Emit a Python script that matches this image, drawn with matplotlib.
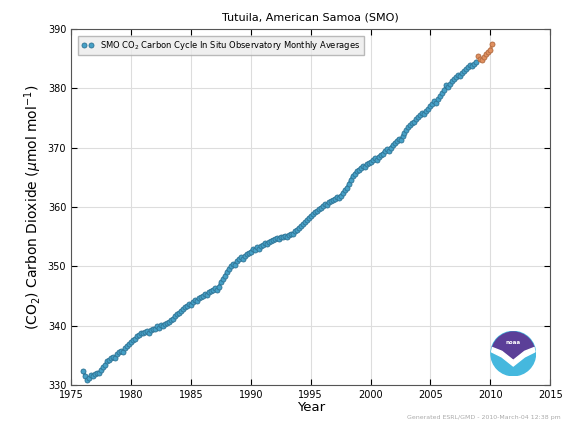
import numpy as np
import matplotlib
matplotlib.use("Agg")
import matplotlib.pyplot as plt
from matplotlib.patches import Circle, Polygon

# bimonthly CO2 values (ppm), starting 1976.0
co2_blue = [
    332.4, 331.6, 330.9, 331.2, 331.7, 331.5,  # 1976
    331.9, 332.1, 332.0, 332.6, 333.0, 333.4,  # 1977
    334.0, 334.2, 334.5, 334.8, 334.6, 335.2,  # 1978
    335.5, 335.8, 335.6, 336.2, 336.6, 336.9,  # 1979
    337.3, 337.6, 337.8, 338.2, 338.5, 338.8,  # 1980
    338.7, 338.9, 339.1, 338.8, 339.2, 339.4,  # 1981
    339.5, 339.9, 339.7, 340.1, 340.0, 340.3,  # 1982
    340.4, 340.6, 340.9, 341.2, 341.6, 341.9,  # 1983
    342.1, 342.5, 342.8, 343.1, 343.4, 343.6,  # 1984
    343.5, 344.0, 344.3, 344.1, 344.6, 344.9,  # 1985
    345.0, 345.4, 345.2, 345.7, 345.9, 346.1,  # 1986
    346.3, 346.1, 346.6, 347.3, 347.8, 348.4,  # 1987
    349.0, 349.6, 350.0, 350.4, 350.3, 350.9,  # 1988
    351.2, 351.5, 351.3, 351.8, 352.1, 352.3,  # 1989
    352.5, 352.9, 352.7, 353.2, 353.0, 353.4,  # 1990
    353.6, 353.9, 353.7, 354.1, 354.3, 354.5,  # 1991
    354.6, 354.8, 354.6, 355.0, 354.9, 355.2,  # 1992
    355.0, 355.3, 355.5, 355.4, 355.9, 356.2,  # 1993
    356.5, 356.8, 357.1, 357.4, 357.8, 358.2,  # 1994
    358.5, 358.8, 359.1, 359.3, 359.6, 359.9,  # 1995
    360.2, 360.5, 360.3, 360.8, 361.0, 361.2,  # 1996
    361.4, 361.7, 361.5, 361.9, 362.3, 362.8,  # 1997
    363.2, 363.8, 364.5, 365.2, 365.6, 366.0,  # 1998
    366.3, 366.6, 366.9, 366.7, 367.2, 367.4,  # 1999
    367.6, 367.9, 368.2, 368.0, 368.5, 368.8,  # 2000
    369.0, 369.4, 369.7, 369.5, 370.0, 370.4,  # 2001
    370.8, 371.1, 371.5, 371.3, 371.9, 372.4,  # 2002
    372.9, 373.4, 373.8, 374.1, 374.4, 374.8,  # 2003
    375.1, 375.5, 375.8, 375.7, 376.2, 376.6,  # 2004
    377.0, 377.4, 377.8, 377.6, 378.2, 378.7,  # 2005
    379.2, 379.8, 380.5, 380.3, 380.8, 381.2,  # 2006
    381.5, 381.9, 382.2, 382.0, 382.5, 382.9,  # 2007
    383.2, 383.6, 383.9, 383.7, 384.1, 384.5,  # 2008
]
# preliminary data, starting 2009.0
co2_orange = [385.4, 385.0, 384.7, 385.3, 385.8, 386.1, 386.5, 387.5]

t_blue = 1976 + np.arange(len(co2_blue)) / 6.0
t_orange = 2009 + np.arange(len(co2_orange)) / 6.0

xticks = [1975, 1980, 1985, 1990, 1995, 2000, 2005, 2010, 2015]
yticks = [330, 340, 350, 360, 370, 380, 390]

fig = plt.figure(figsize=(5.69, 4.26), dpi=100)
ax = fig.add_axes([0.125, 0.096, 0.842, 0.836])

ax.plot(t_blue, co2_blue, color="#3d8db3", lw=2.2, zorder=2)
ax.plot(t_blue, co2_blue, "o", ms=3.6, mfc="#46a0c6", mec="#2f7394", mew=0.6,
        zorder=3,
        label="SMO CO$_2$ Carbon Cycle In Situ Observatory Monthly Averages")
ax.plot(t_orange, co2_orange, color="#d58a5c", lw=2.2, zorder=2)
ax.plot(t_orange, co2_orange, "o", ms=3.6, mfc="#e09060", mec="#b06a40",
        mew=0.6, zorder=3)

ax.set_xlim(1975, 2015)
ax.set_ylim(330, 390)
ax.set_xticks(xticks)
ax.set_yticks(yticks)
ax.tick_params(direction="in", top=True, right=True, labelsize=7, length=4)
ax.grid(color="#dddddd", linewidth=0.8)
ax.set_axisbelow(True)
for s in ax.spines.values():
    s.set_color("#555555")

ax.set_title("Tutuila, American Samoa (SMO)", fontsize=8)
ax.set_xlabel("Year", fontsize=9.5, labelpad=1)
ax.set_ylabel("(CO$_2$) Carbon Dioxide ($\\mu$mol mol$^{-1}$)", fontsize=10,
              labelpad=3)

leg = ax.legend(loc="upper left", numpoints=2, fontsize=6, fancybox=False,
                borderaxespad=0.8, handlelength=1.5)
leg.get_frame().set_facecolor("#ececec")
leg.get_frame().set_edgecolor("#aaaaaa")

fig.text(0.985, 0.015, "Generated ESRL/GMD - 2010-March-04 12:38 pm",
         fontsize=4.5, color="#aaaaaa", ha="right", va="bottom")

# NOAA logo
lg = fig.add_axes([0.862, 0.117, 0.08, 0.106])
lg.set_xlim(-1, 1)
lg.set_ylim(-1, 1)
lg.axis("off")
base = Circle((0, 0), 0.98, color="#45b8de")
lg.add_patch(base)
top = Polygon([(-1, 0.3), (-0.5, 0.1), (0, -0.3), (0.5, 0.1), (1, 0.3),
               (1, 1), (-1, 1)], closed=True, color="#5b3f98")
lg.add_patch(top)
top.set_clip_path(base)
band = Polygon([(-1, 0.3), (-0.5, 0.1), (0, -0.3), (0.5, 0.1), (1, 0.3),
                (1, 0.1), (0.5, -0.15), (0, -0.55), (-0.5, -0.15), (-1, 0.1)],
               closed=True, color="white")
lg.add_patch(band)
band.set_clip_path(base)
lg.text(0, 0.5, "noaa", color="white", fontsize=4, ha="center", va="center",
        fontweight="bold")

fig.savefig("out.png", dpi=100)
